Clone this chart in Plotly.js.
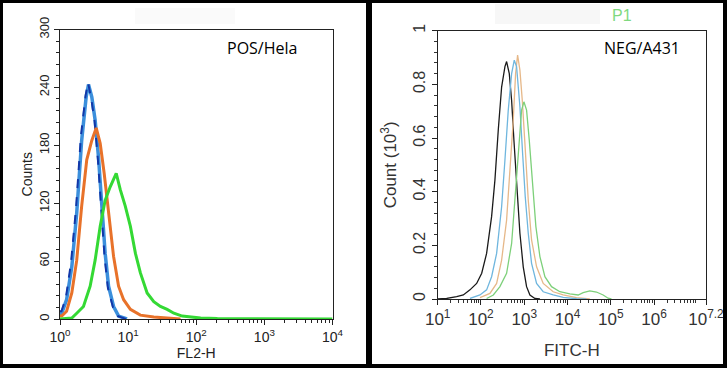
<!DOCTYPE html>
<html><head><meta charset="utf-8">
<script src="https://cdn.plot.ly/plotly-3.0.1.min.js"></script>
<style>html,body{margin:0;padding:0;background:#fff;} #chart{width:727px;height:368px;}</style>
</head><body><div id="chart"></div>
<script>
// ---- Left panel (POS/Hela), x = FL2-H, y = Counts ----
var posLightBlueX = [1.00, 1.06, 1.25, 1.49, 1.76, 2.08, 2.42, 2.62, 2.93, 3.28, 3.67, 4.11, 4.60, 5.16, 6.11, 7.24, 9.62];
var posLightBlueY = [6, 6, 20, 54, 110, 185, 230, 243, 230, 206, 168, 117, 68, 34, 13, 3, 0];
var posNavyX = [1.00, 1.05, 1.22, 1.45, 1.72, 2.03, 2.38, 2.58, 2.88, 3.22, 3.60, 4.02, 4.50, 5.05, 6.00, 7.10, 9.40];
var posNavyY = [8, 8, 22, 58, 115, 190, 232, 245, 228, 205, 165, 115, 65, 32, 12, 3, 0];
var posOrangeX = [1.00, 1.06, 1.25, 1.49, 1.76, 2.08, 2.47, 2.93, 3.40, 3.89, 4.45, 5.16, 6.11, 7.24, 8.59, 10.8, 15.1, 23.8, 37.4, 58.8];
var posOrangeY = [3, 3, 8, 27, 61, 117, 165, 185, 198, 182, 151, 110, 65, 34, 20, 10, 4, 2, 1, 0];
var posGreenX = [1.00, 1.49, 1.76, 2.21, 2.77, 3.28, 3.89, 4.60, 5.46, 6.69, 7.67, 9.08, 10.8, 12.8, 15.1, 19.0, 23.8, 29.8, 37.4, 46.9, 62.2, 82.5, 116, 204, 10000];
var posGreenY = [0, 1, 6, 13, 34, 61, 96, 123, 137, 151, 134, 117, 96, 68, 48, 27, 18, 13, 10, 6, 3, 2, 1, 0.5, 0];

var posYTicks = [0, 60, 120, 180, 240, 300];
var posXTicks = [1, 10, 100, 1000, 10000];
var posXTickText = ['10<sup>0</sup>', '10<sup>1</sup>', '10<sup>2</sup>', '10<sup>3</sup>', '10<sup>4</sup>'];

// ---- Right panel (NEG/A431), x = FITC-H, y = Count (10^3) ----
var negBlackX = [10, 16.1, 27.4, 39.1, 55.7, 79.4, 104, 135, 176, 210, 251, 300, 358, 391, 451, 511, 578, 665, 794, 948, 1132, 1352, 1762, 2301];
var negBlackY = [0, 0.002, 0.009, 0.015, 0.034, 0.058, 0.096, 0.17, 0.307, 0.443, 0.63, 0.79, 0.866, 0.885, 0.84, 0.74, 0.59, 0.42, 0.245, 0.12, 0.046, 0.015, 0.002, 0];
var negBlueX = [55.7, 94.8, 135, 176, 230, 300, 358, 427, 511, 588, 665, 794, 916, 1055, 1237, 1476, 1927, 2742, 4667, 7943, 16140, 27410];
var negBlueY = [0.002, 0.015, 0.034, 0.083, 0.17, 0.344, 0.518, 0.704, 0.84, 0.89, 0.866, 0.717, 0.543, 0.381, 0.245, 0.133, 0.058, 0.027, 0.015, 0.006, 0.001, 0];
var negTanX = [94.8, 161, 230, 300, 391, 467, 557, 631, 702, 794, 899, 1036, 1237, 1476, 1927, 2742, 4667, 7943, 16140, 32730];
var negTanY = [0.005, 0.021, 0.058, 0.145, 0.294, 0.468, 0.667, 0.84, 0.909, 0.853, 0.742, 0.58, 0.369, 0.22, 0.12, 0.058, 0.027, 0.015, 0.005, 0];
var negGreenX = [135, 193, 274, 391, 511, 609, 727, 868, 982, 1132, 1304, 1556, 1858, 2301, 3000, 4276, 6653, 11320, 17620, 23010, 32730, 46670, 66530, 86700, 103500];
var negGreenY = [0.002, 0.015, 0.046, 0.096, 0.207, 0.369, 0.568, 0.704, 0.735, 0.704, 0.593, 0.431, 0.27, 0.158, 0.083, 0.046, 0.027, 0.019, 0.015, 0.024, 0.03, 0.026, 0.015, 0.003, 0];

var negYTicks = [0, 0.2, 0.4, 0.6, 0.8, 1];
var negYTickText = ['0', '0.2', '0.4', '0.6', '0.8', '1'];
var negXTicks = [10, 100, 1000, 10000, 100000, 1000000, 15848932];
var negXTickText = ['10<sup>1</sup>', '10<sup>2</sup>', '10<sup>3</sup>', '10<sup>4</sup>', '10<sup>5</sup>', '10<sup>6</sup>', '10<sup>7.2</sup>'];

// ---- layout helpers ----
var W = 727, H = 368;
function px(x) { return x / W; }
function py(y) { return 1 - y / H; }
function minorLog(a, b) { var v = []; for (var d = a; d < b; d++) { for (var k = 2; k <= 9; k++) v.push(k * Math.pow(10, d)); } return v; }

var FONT = 'Liberation Sans, Arial, sans-serif';

var traces = [
  {x: posLightBlueX, y: posLightBlueY, xaxis: 'x', yaxis: 'y', mode: 'lines', line: {color: '#3b8fdc', width: 3.5}},
  {x: posNavyX, y: posNavyY, xaxis: 'x', yaxis: 'y', mode: 'lines', line: {color: '#1237a8', width: 2, dash: 'dash'}},
  {x: posOrangeX, y: posOrangeY, xaxis: 'x', yaxis: 'y', mode: 'lines', line: {color: '#e8722a', width: 3}},
  {x: posGreenX, y: posGreenY, xaxis: 'x', yaxis: 'y', mode: 'lines', line: {color: '#34d934', width: 3}},
  {x: negBlackX, y: negBlackY, xaxis: 'x2', yaxis: 'y2', mode: 'lines', line: {color: '#1a1a1a', width: 1.3}},
  {x: negTanX, y: negTanY, xaxis: 'x2', yaxis: 'y2', mode: 'lines', line: {color: '#e6b889', width: 1.3}},
  {x: negBlueX, y: negBlueY, xaxis: 'x2', yaxis: 'y2', mode: 'lines', line: {color: '#6fb6de', width: 1.3}},
  {x: negGreenX, y: negGreenY, xaxis: 'x2', yaxis: 'y2', mode: 'lines', line: {color: '#7dd07a', width: 1.3}}
];

var axisCommon = {showline: true, linecolor: '#222', linewidth: 1, mirror: true, showgrid: false, zeroline: false,
  ticks: 'outside', ticklen: 5, tickwidth: 1, tickcolor: '#222', fixedrange: true};

var layout = {
  width: W, height: H, margin: {l: 0, r: 0, t: 0, b: 0},
  paper_bgcolor: '#fff', plot_bgcolor: '#fff', showlegend: false,
  font: {family: FONT, color: '#222'},
  xaxis: Object.assign({}, axisCommon, {
    type: 'log', range: [0, 4], domain: [px(60), px(332.5)], anchor: 'y',
    tickvals: posXTicks, ticktext: posXTickText, tickfont: {size: 14, color: '#222'},
    minor: {tickvals: minorLog(0, 4), ticklen: 3, ticks: 'outside', tickcolor: '#222'},
    title: {text: 'FL2-H', font: {size: 14, color: '#222'}, standoff: 0}
  }),
  yaxis: Object.assign({}, axisCommon, {
    range: [0, 300], domain: [py(319), py(29.5)], anchor: 'x',
    tickvals: posYTicks, tickangle: -90, tickfont: {size: 13, color: '#222'},
    minor: {dtick: 12, ticklen: 3, ticks: 'outside', tickcolor: '#222'},
    title: {text: 'Counts', font: {size: 14, color: '#222'}, standoff: 0}
  }),
  xaxis2: Object.assign({}, axisCommon, {
    type: 'log', range: [1, 7.2], domain: [px(437.7), px(706)], anchor: 'y2',
    tickvals: negXTicks, ticktext: negXTickText, tickfont: {size: 17, color: '#333'},
    minor: {tickvals: minorLog(1, 7), ticklen: 3, ticks: 'outside', tickcolor: '#333'},
    title: {text: 'FITC-H', font: {size: 17, color: '#333'}, standoff: 15}
  }),
  yaxis2: Object.assign({}, axisCommon, {
    range: [0, 1], domain: [py(299), py(30.7)], anchor: 'x2',
    tickvals: negYTicks, ticktext: negYTickText, tickangle: -90, tickfont: {size: 16, color: '#333'},
    minor: {dtick: 0.04, ticklen: 3, ticks: 'outside', tickcolor: '#333'},
    title: {text: 'Count (10<sup>3</sup>)', font: {size: 17, color: '#333'}, standoff: 10}
  }),
  annotations: [
    {text: 'POS/Hela', xref: 'paper', yref: 'paper', x: px(262), y: py(48), xanchor: 'center', yanchor: 'middle', showarrow: false,
      font: {family: 'Open Sans, sans-serif', size: 16, color: '#000'}},
    {text: 'NEG/A431', xref: 'paper', yref: 'paper', x: px(642), y: py(48), xanchor: 'center', yanchor: 'middle', showarrow: false,
      font: {family: 'Open Sans, sans-serif', size: 16, color: '#000'}},
    {text: 'P1', xref: 'paper', yref: 'paper', x: px(622), y: py(16), xanchor: 'center', yanchor: 'middle', showarrow: false,
      font: {family: FONT, size: 16, color: '#7fd97f'}}
  ],
  shapes: [
    // faint smudges at top of each panel
    {type: 'rect', xref: 'paper', yref: 'paper', x0: px(135), x1: px(235), y0: py(24), y1: py(8), fillcolor: 'rgba(0,0,0,0.02)', line: {width: 0}, layer: 'below'},
    {type: 'rect', xref: 'paper', yref: 'paper', x0: px(495), x1: px(600), y0: py(24), y1: py(4), fillcolor: 'rgba(0,0,0,0.03)', line: {width: 0}, layer: 'below'},
    // black frame
    {type: 'rect', xref: 'paper', yref: 'paper', x0: 0, x1: 1, y0: py(3), y1: 1, fillcolor: '#000', line: {width: 0}},
    {type: 'rect', xref: 'paper', yref: 'paper', x0: 0, x1: 1, y0: 0, y1: py(364), fillcolor: '#000', line: {width: 0}},
    {type: 'rect', xref: 'paper', yref: 'paper', x0: 0, x1: px(3), y0: 0, y1: 1, fillcolor: '#000', line: {width: 0}},
    {type: 'rect', xref: 'paper', yref: 'paper', x0: px(723), x1: 1, y0: 0, y1: 1, fillcolor: '#000', line: {width: 0}},
    {type: 'rect', xref: 'paper', yref: 'paper', x0: px(366), x1: px(372), y0: 0, y1: 1, fillcolor: '#000', line: {width: 0}}
  ]
};

Plotly.newPlot('chart', traces, layout, {staticPlot: true, displayModeBar: false});
</script></body></html>
